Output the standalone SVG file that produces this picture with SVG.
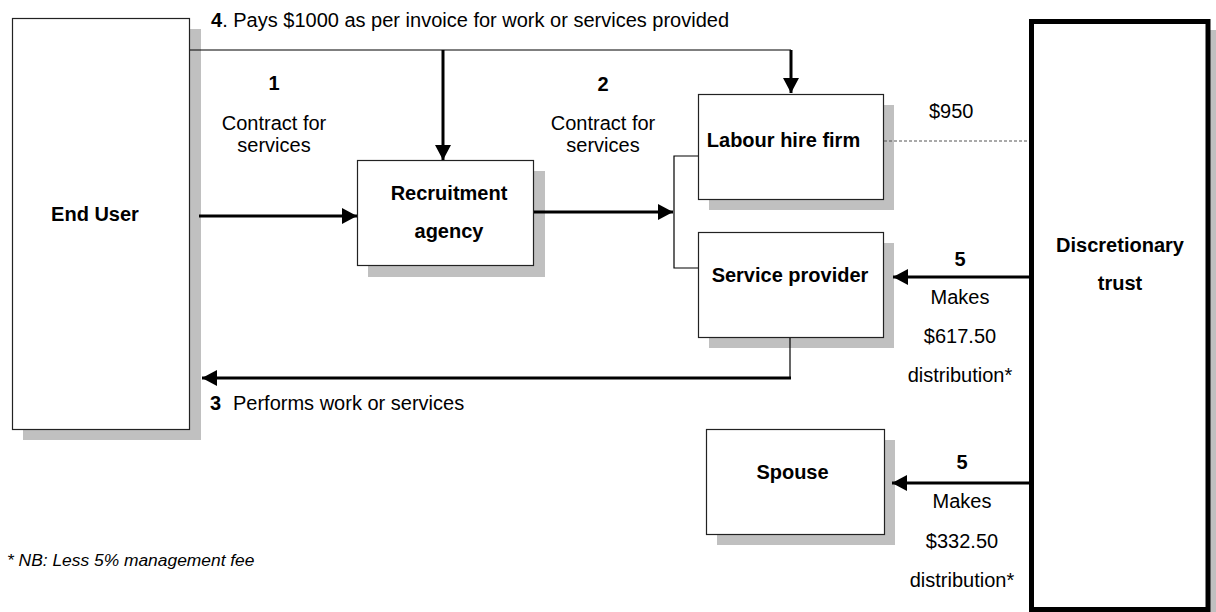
<svg xmlns="http://www.w3.org/2000/svg" width="1216" height="612" viewBox="0 0 1216 612">
<style>
.sh{fill:#c0c0c0}
.bx{fill:#fff;stroke:#222;stroke-width:1.2}
.t{font-family:"Liberation Sans",Arial,sans-serif;font-size:20px;fill:#000}
.b{font-weight:bold}
.c{text-anchor:middle}
.thin{fill:none;stroke:#000;stroke-width:1.2}
.thick{fill:none;stroke:#000;stroke-width:3}
</style>
<defs>
<marker id="ah" viewBox="0 0 15 16" refX="15" refY="8" markerWidth="15" markerHeight="16" markerUnits="userSpaceOnUse" orient="auto">
<path d="M0,0 L15,8 L0,16 Z" fill="#000"/>
</marker>
</defs>
<rect width="1216" height="612" fill="#fff"/>

<g id="end-user">
<rect class="sh" x="23" y="29" width="178" height="411"/>
<rect class="bx" x="12.5" y="18.5" width="177" height="411"/>
<text class="t b c" x="95" y="221">End User</text>
</g>

<g id="recruitment-agency">
<rect class="sh" x="368" y="171" width="177" height="106"/>
<rect class="bx" x="357.5" y="160.5" width="176" height="105"/>
<text class="t b c" x="449" y="200">Recruitment</text>
<text class="t b c" x="449" y="238">agency</text>
</g>

<g id="labour-hire-firm">
<rect class="sh" x="709" y="105" width="185" height="105"/>
<rect class="bx" x="698.5" y="94.5" width="185" height="105"/>
<text class="t b c" x="783.5" y="147">Labour hire firm</text>
</g>

<g id="service-provider">
<rect class="sh" x="709" y="243" width="185" height="105"/>
<rect class="bx" x="698.5" y="232.5" width="185" height="105"/>
<text class="t b c" x="790" y="282">Service provider</text>
</g>

<g id="spouse">
<rect class="sh" x="717" y="440" width="178" height="105"/>
<rect class="bx" x="706.5" y="429.5" width="178" height="105"/>
<text class="t b c" x="792.5" y="479">Spouse</text>
</g>

<g id="discretionary-trust">
<rect class="sh" x="1040" y="30" width="180" height="590"/>
<rect x="1031.5" y="21.5" width="176.5" height="588" fill="#fff" stroke="#000" stroke-width="5"/>
<text class="t b c" x="1120" y="252">Discretionary</text>
<text class="t b c" x="1120" y="290">trust</text>
</g>

<g id="connectors">
<path class="thin" d="M190,50 H791"/>
<path class="thick" d="M443,50 V160" marker-end="url(#ah)"/>
<path class="thick" d="M791,50 V93" marker-end="url(#ah)"/>
<path class="thick" d="M199,216 H357" marker-end="url(#ah)"/>
<path class="thick" d="M534,212 H673" marker-end="url(#ah)"/>
<path class="thin" d="M698,156 H674 V268 H698"/>
<path class="thin" d="M790,338 V378"/>
<path class="thick" d="M791,378 H202" marker-end="url(#ah)"/>
<path d="M884,141 H1029" fill="none" stroke="#555" stroke-width="1.2" stroke-dasharray="3,2"/>
<path class="thick" d="M1030,277 H893" marker-end="url(#ah)"/>
<path class="thick" d="M1030,483 H892" marker-end="url(#ah)"/>
</g>

<g id="labels">
<text class="t" x="211" y="27"><tspan class="b">4</tspan>. Pays $1000 as per invoice for work or services provided</text>
<text class="t b c" x="274" y="90">1</text>
<text class="t c" x="274" y="130">Contract for</text>
<text class="t c" x="274" y="152">services</text>
<text class="t b c" x="603" y="91">2</text>
<text class="t c" x="603" y="130">Contract for</text>
<text class="t c" x="603" y="152">services</text>
<text class="t b" x="210" y="410">3</text>
<text class="t" x="233" y="410">Performs work or services</text>
<text class="t" x="929" y="118">$950</text>
<text class="t b c" x="960" y="266">5</text>
<text class="t c" x="960" y="304">Makes</text>
<text class="t c" x="960" y="343">$617.50</text>
<text class="t c" x="960" y="382">distribution*</text>
<text class="t b c" x="962" y="469">5</text>
<text class="t c" x="962" y="508">Makes</text>
<text class="t c" x="962" y="548">$332.50</text>
<text class="t c" x="962" y="587">distribution*</text>
<text class="t" x="7" y="566" style="font-size:17.4px;font-style:italic">* NB: Less 5% management fee</text>
</g>
</svg>
